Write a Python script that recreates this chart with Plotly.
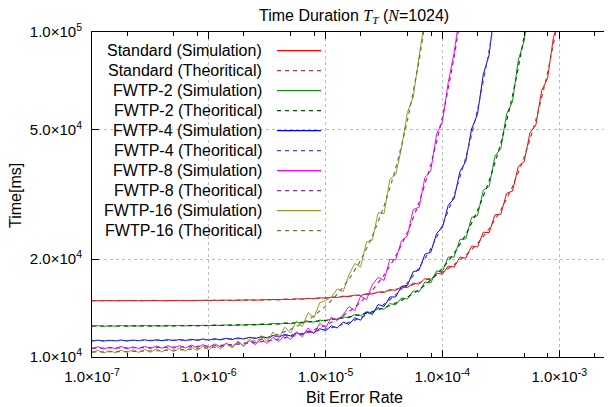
import plotly.graph_objects as go

# ---------------- data ----------------
ber_theo = [1.000e-7, 1.259e-7, 1.585e-7, 1.995e-7, 2.512e-7, 3.162e-7, 3.981e-7, 5.012e-7, 6.310e-7, 7.943e-7,
            1.000e-6, 1.259e-6, 1.585e-6, 1.995e-6, 2.512e-6, 3.162e-6, 3.981e-6, 5.012e-6, 6.310e-6, 7.943e-6,
            1.000e-5, 1.259e-5, 1.585e-5, 1.995e-5, 2.512e-5, 3.162e-5, 3.981e-5, 5.012e-5, 6.310e-5, 7.943e-5,
            1.000e-4, 1.259e-4, 1.585e-4, 1.995e-4, 2.512e-4, 3.162e-4, 3.981e-4, 5.012e-4, 6.310e-4, 7.943e-4,
            1.000e-3]

ber_sim = [1.000e-7, 1.122e-7, 1.259e-7, 1.413e-7, 1.585e-7, 1.778e-7, 1.995e-7, 2.239e-7, 2.512e-7, 2.818e-7,
           3.162e-7, 3.548e-7, 3.981e-7, 4.467e-7, 5.012e-7, 5.623e-7, 6.310e-7, 7.079e-7, 7.943e-7, 8.913e-7,
           1.000e-6, 1.122e-6, 1.259e-6, 1.413e-6, 1.585e-6, 1.778e-6, 1.995e-6, 2.239e-6, 2.512e-6, 2.818e-6,
           3.162e-6, 3.548e-6, 3.981e-6, 4.467e-6, 5.012e-6, 5.623e-6, 6.310e-6, 7.079e-6, 7.943e-6, 8.913e-6,
           1.000e-5, 1.122e-5, 1.259e-5, 1.413e-5, 1.585e-5, 1.778e-5, 1.995e-5, 2.239e-5, 2.512e-5, 2.818e-5,
           3.162e-5, 3.548e-5, 3.981e-5, 4.467e-5, 5.012e-5, 5.623e-5, 6.310e-5, 7.079e-5, 7.943e-5, 8.913e-5,
           1.000e-4, 1.122e-4, 1.259e-4, 1.413e-4, 1.585e-4, 1.778e-4, 1.995e-4, 2.239e-4, 2.512e-4, 2.818e-4,
           3.162e-4, 3.548e-4, 3.981e-4, 4.467e-4, 5.012e-4, 5.623e-4, 6.310e-4, 7.079e-4, 7.943e-4, 8.913e-4,
           1.000e-3, 1.122e-3]

std_theo = [14900, 14900, 14900, 14900, 14900, 14910, 14910, 14910, 14920, 14920,
            14930, 14938, 14948, 14960, 14976, 14996, 15021, 15052, 15092, 15142,
            15206, 15286, 15387, 15516, 15680, 15888, 16154, 16496, 16936, 17507,
            18254, 19239, 20556, 22340, 24812, 28313, 33434, 41213, 53634, 74719,
            113450]
fw2_theo = [12455, 12456, 12458, 12460, 12463, 12466, 12470, 12476, 12482, 12491,
            12501, 12514, 12531, 12552, 12579, 12612, 12655, 12708, 12776, 12862,
            12971, 13109, 13285, 13510, 13799, 14171, 14655, 15287, 16123, 17237,
            18752, 20851, 23831, 28189, 34835, 45465, 63580, 96985, 165050]
fw4_theo = [11229, 11232, 11235, 11238, 11243, 11249, 11257, 11266, 11278, 11293,
            11312, 11336, 11367, 11405, 11453, 11514, 11592, 11690, 11815, 11974,
            12178, 12438, 12775, 13212, 13784, 14537, 15546, 16916, 18815, 21507,
            25456, 31470, 41103, 57527, 87828, 149630]
fw8_theo = [10653, 10658, 10664, 10671, 10680, 10691, 10706, 10724, 10747, 10775,
            10812, 10858, 10916, 10989, 11083, 11202, 11353, 11546, 11794, 12115,
            12529, 13073, 13790, 14749, 16052, 17857, 20421, 24179, 29906, 39081,
            54742, 83665, 142770]
fw16_theo = [10364, 10373, 10384, 10398, 10415, 10438, 10466, 10501, 10546, 10602,
             10674, 10765, 10881, 11028, 11216, 11458, 11770, 12174, 12703, 13401,
             14335, 15605, 17365, 19861, 23528, 29115, 38077, 53380, 81666, 139470]

std_sim = [14890, 14920, 14880, 14910, 14900, 14930, 14890, 14915, 14895, 14925,
           14900, 14930, 14895, 14920, 14905, 14935, 14910, 14940, 14915, 14945,
           14920, 14950, 14925, 14960, 14935, 14975, 14945, 14990, 14960, 15010,
           14980, 15035, 15000, 15070, 15030, 15100, 15065, 15150, 15110, 15210,
           15170, 15290, 15240, 15390, 15330, 15510, 15460, 15660, 15610, 15860,
           15800, 16120, 16040, 16450, 16360, 16880, 16760, 17420, 17290, 18120,
           17980, 19050, 18900, 20300, 20150, 21950, 21800, 24200, 24150, 27400,
           27500, 31900, 32400, 38600, 39900, 49000, 51800, 66000, 72000, 96000,
           110000, 150000]
fw2_sim = [12440, 12480, 12430, 12475, 12445, 12490, 12440, 12485, 12450, 12495,
           12445, 12490, 12455, 12500, 12460, 12505, 12465, 12515, 12470, 12525,
           12480, 12540, 12490, 12555, 12505, 12575, 12525, 12600, 12550, 12640,
           12575, 12680, 12615, 12735, 12665, 12800, 12720, 12880, 12800, 12990,
           12900, 13130, 13030, 13300, 13190, 13520, 13400, 13790, 13670, 14150,
           14020, 14600, 14480, 15200, 15080, 15980, 15850, 17000, 16900, 18400,
           18300, 20300, 20300, 23000, 23100, 26900, 27200, 32600, 33500, 41500,
           43800, 56000, 61000, 82000, 94000, 130000]
fw4_sim = [11200, 11270, 11190, 11260, 11210, 11280, 11200, 11275, 11215, 11290,
           11210, 11300, 11225, 11310, 11230, 11320, 11240, 11340, 11250, 11360,
           11270, 11380, 11290, 11410, 11320, 11450, 11350, 11500, 11400, 11560,
           11450, 11640, 11520, 11740, 11610, 11860, 11720, 12020, 11860, 12220,
           12050, 12470, 12290, 12800, 12600, 13200, 12980, 13750, 13520, 14500,
           14300, 15300, 15300, 16500, 16600, 18300, 18500, 20700, 21000, 24000,
           25000, 29300, 30700, 37200, 40000, 50300, 55800, 74000, 85000, 120000]
fw8_sim = [10600, 10760, 10580, 10720, 10610, 10780, 10600, 10740, 10620, 10790,
           10620, 10800, 10640, 10830, 10650, 10840, 10660, 10880, 10690, 10920,
           10710, 10970, 10740, 11030, 10780, 11110, 10830, 11220, 10920, 11350,
           11020, 11500, 11150, 11700, 11320, 11950, 11550, 12280, 11820, 12700,
           12300, 13250, 12950, 13500, 14300, 13900, 15400, 15000, 16700, 17600,
           17200, 20000, 19900, 22800, 23600, 28400, 28900, 35600, 37400, 48500,
           53000, 70000, 86000, 115000]
fw16_sim = [10300, 10480, 10290, 10450, 10310, 10500, 10320, 10520, 10330, 10560,
            10340, 10590, 10360, 10620, 10390, 10660, 10430, 10720, 10470, 10800,
            10520, 10900, 10580, 11020, 10660, 11200, 10780, 11400, 10950, 11650,
            11150, 11950, 11450, 12350, 11850, 12900, 12400, 13700, 13200, 14700,
            14900, 15300, 16200, 15900, 17900, 19400, 18900, 22600, 22900, 27800,
            27600, 35200, 36400, 44000, 56500, 63000, 84000, 110000]

series_names = ["Standard", "FWTP-2", "FWTP-4", "FWTP-8", "FWTP-16"]
sim_values = [std_sim, fw2_sim, fw4_sim, fw8_sim, fw16_sim]
theo_values = [std_theo, fw2_theo, fw4_theo, fw8_theo, fw16_theo]

x_tickvals = [1e-7, 1e-6, 1e-5, 1e-4, 1e-3]
x_ticktext = ["1.0×10<sup>-7</sup>", "1.0×10<sup>-6</sup>", "1.0×10<sup>-5</sup>",
              "1.0×10<sup>-4</sup>", "1.0×10<sup>-3</sup>"]
x_minor = [2e-7, 5e-7, 8e-7, 2e-6, 5e-6, 8e-6, 2e-5, 5e-5, 8e-5, 2e-4, 5e-4, 8e-4, 2e-3]
y_tickvals = [1e4, 2e4, 5e4, 1e5]
y_ticktext = ["1.0×10<sup>4</sup>", "2.0×10<sup>4</sup>", "5.0×10<sup>4</sup>", "1.0×10<sup>5</sup>"]

# ---------------- styles ----------------
sim_colors = ["#ff0000", "#109010", "#0000ff", "#ff00ff", "#999922"]
theo_colors = ["#a04040", "#005000", "#4848b0", "#a020a0", "#707045"]
FONT = "Liberation Sans, Arial, Helvetica, sans-serif"

fig = go.Figure()
for name, sv, tv, sc, tc in zip(series_names, sim_values, theo_values, sim_colors, theo_colors):
    fig.add_trace(go.Scatter(x=ber_sim[:len(sv)], y=sv, mode="lines",
                             line=dict(color=sc, width=1), name=name + " (Simulation)"))
    fig.add_trace(go.Scatter(x=ber_theo[:len(tv)], y=tv, mode="lines",
                             line=dict(color=tc, width=1.2, dash="4px,4px", shape="spline", smoothing=0.6),
                             name=name + " (Theoritical)"))

# plot area in page pixels (page has an 8px body offset)
OFF = 8
L, T, PW, PH = 92, 32, 520, 325

def px2paper(px, py):
    return (px - L) / PW, (T + PH - py) / PH

annotations = []
shapes = []
k = 0
for name, sc, tc in zip(series_names, sim_colors, theo_colors):
    for kind, col, dash in [("Simulation", sc, "solid"), ("Theoritical", tc, "4px,4px")]:
        py = 50.7 + 20 * k
        xr, yp = px2paper(264, py)
        annotations.append(dict(x=xr, y=yp, xref="paper", yref="paper", xanchor="right", yanchor="middle",
                                text=f"{name} ({kind})", showarrow=False,
                                font=dict(family=FONT, size=16, color="black")))
        x0, _ = px2paper(277, py)
        x1, _ = px2paper(321, py)
        shapes.append(dict(type="line", xref="paper", yref="paper", x0=x0, x1=x1, y0=yp, y1=yp,
                           line=dict(color=col, width=1.2, dash=dash)))
        k += 1

serif = "font-family:Liberation Serif"
title_text = (f'Time Duration <span style="{serif}"><i>T</i><sub><i>T</i></sub></span> '
              f'(<span style="{serif}"><i>N</i></span>=1024)')
tx, ty = px2paper(354, 16)
annotations.append(dict(x=tx, y=ty, xref="paper", yref="paper", xanchor="center", yanchor="middle",
                        text=title_text, showarrow=False, font=dict(family=FONT, size=16, color="black")))
bx, by = px2paper(354, 397)
annotations.append(dict(x=bx, y=by, xref="paper", yref="paper", xanchor="center", yanchor="middle",
                        text="Bit Error Rate", showarrow=False, font=dict(family=FONT, size=16, color="black")))
lx, ly = px2paper(15, 196)
annotations.append(dict(x=lx, y=ly, xref="paper", yref="paper", xanchor="center", yanchor="middle",
                        text="Time[ms]", textangle=-90, showarrow=False,
                        font=dict(family=FONT, size=16, color="black")))

fig.update_layout(
    width=612, height=407,
    margin=dict(l=L - OFF, r=612 - (L - OFF) - PW, t=T - OFF, b=407 - (T - OFF) - PH, pad=0),
    paper_bgcolor="white", plot_bgcolor="white",
    showlegend=False,
    font=dict(family=FONT, size=15, color="black"),
    annotations=annotations, shapes=shapes,
    xaxis=dict(type="log", range=[-7, -2.548], tickvals=x_tickvals, ticktext=x_ticktext,
               ticks="inside", ticklen=7, tickcolor="black", tickwidth=1, automargin=False,
               ticklabelstandoff=6,
               showline=True, linecolor="black", linewidth=1, mirror="allticks",
               showgrid=True, gridcolor="#bdbdbd", griddash="dot", gridwidth=1,
               minor=dict(tickvals=x_minor, ticks="inside", ticklen=4, tickcolor="black", showgrid=False),
               zeroline=False, tickfont=dict(family=FONT, size=15, color="black")),
    yaxis=dict(type="log", range=[4, 5], tickvals=y_tickvals, ticktext=y_ticktext,
               ticks="inside", ticklen=7, tickcolor="black", tickwidth=1, automargin=False,
               ticklabelstandoff=6,
               showline=True, linecolor="black", linewidth=1, mirror=False,
               showgrid=True, gridcolor="#bdbdbd", griddash="dot", gridwidth=1,
               zeroline=False, tickfont=dict(family=FONT, size=15, color="black")),
)

fig.write_html("out.html")
